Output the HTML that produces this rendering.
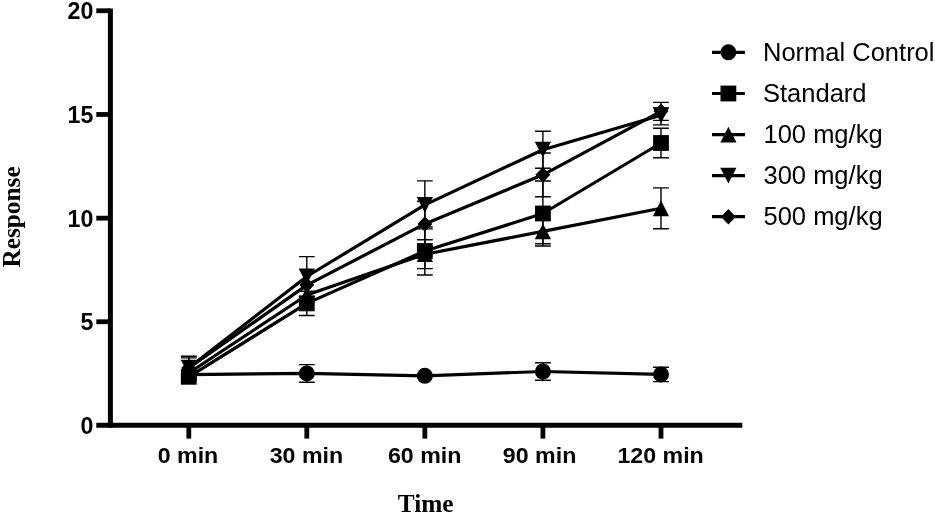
<!DOCTYPE html>
<html><head><meta charset="utf-8"><title>Response vs Time</title>
<style>
html,body{margin:0;padding:0;background:#fff;}
body{width:935px;height:515px;overflow:hidden;}
svg{display:block;}
.ax{stroke:#000;stroke-width:5.0;fill:none;}
.tk{stroke:#000;stroke-width:4.8;fill:none;}
.ln{stroke:#000;stroke-width:3.2;fill:none;stroke-linejoin:round;}
.eb{stroke:#000;stroke-width:1.4;fill:none;}
.tl{font-family:"Liberation Sans",Arial,sans-serif;font-weight:bold;font-size:23.2px;fill:#000;}
.lg{font-family:"Liberation Sans",Arial,sans-serif;font-size:25.5px;fill:#000;}
.at{font-family:"Liberation Serif","Times New Roman",serif;font-weight:bold;font-size:25.3px;fill:#000;}
</style></head>
<body>
<svg width="935" height="515" viewBox="0 0 935 515">
<rect width="935" height="515" fill="#fff"/>
<path class="ax" d="M110.4,8.4V427.7"/>
<path class="ax" d="M96.3,425.2H742.3"/>
<path class="tk" d="M96.3,10.75H110"/>
<text class="tl" text-anchor="end" transform="translate(93.3,19.1) scale(1,1.07)">20</text>
<path class="tk" d="M96.3,114.45H110"/>
<text class="tl" text-anchor="end" transform="translate(93.3,122.9) scale(1,1.07)">15</text>
<path class="tk" d="M96.3,218.15H110"/>
<text class="tl" text-anchor="end" transform="translate(93.3,226.6) scale(1,1.07)">10</text>
<path class="tk" d="M96.3,321.75H110"/>
<text class="tl" text-anchor="end" transform="translate(93.3,330.1) scale(1,1.07)">5</text>
<text class="tl" text-anchor="end" transform="translate(93.3,433.6) scale(1,1.07)">0</text>
<path class="tk" d="M188.8,425V438.6"/>
<text class="tl" text-anchor="middle" transform="translate(188.0,463.4) scale(1,0.985)">0 min</text>
<path class="tk" d="M306.8,425V438.6"/>
<text class="tl" text-anchor="middle" transform="translate(306.4,463.4) scale(1,0.985)">30 min</text>
<path class="tk" d="M424.85,425V438.6"/>
<text class="tl" text-anchor="middle" transform="translate(424.7,463.4) scale(1,0.985)">60 min</text>
<path class="tk" d="M542.9,425V438.6"/>
<text class="tl" text-anchor="middle" transform="translate(539.6,463.4) scale(1,0.985)">90 min</text>
<path class="tk" d="M661.0,425V438.6"/>
<text class="tl" text-anchor="middle" transform="translate(660.6,463.4) scale(1,0.985)">120 min</text>
<polyline class="ln" points="188.8,374.6 306.8,373.4 424.85,375.8 542.9,371.5 661.0,374.4"/>
<path class="eb" d="M306.8,364.60V382.20M298.90,364.60h15.8M298.90,382.20h15.8M542.9,362.75V380.25M535.00,362.75h15.8M535.00,380.25h15.8M661.0,367.20V381.60M653.10,367.20h15.8M653.10,381.60h15.8"/>
<circle cx="188.8" cy="374.6" r="8.00"/>
<circle cx="306.8" cy="373.4" r="8.00"/>
<circle cx="424.85" cy="375.8" r="8.00"/>
<circle cx="542.9" cy="371.5" r="8.00"/>
<circle cx="661.0" cy="374.4" r="8.00"/>
<polyline class="ln" points="188.8,376.8 306.8,303.4 424.85,251.0 542.9,213.5 661.0,143.0"/>
<path class="eb" d="M306.8,291.30V315.50M298.90,291.30h15.8M298.90,315.50h15.8M424.85,227.00V275.00M416.95,227.00h15.8M416.95,275.00h15.8M542.9,181.00V246.00M535.00,181.00h15.8M535.00,246.00h15.8M661.0,128.30V157.70M653.10,128.30h15.8M653.10,157.70h15.8"/>
<rect x="180.90" y="368.90" width="15.80" height="15.80"/>
<rect x="298.90" y="295.50" width="15.80" height="15.80"/>
<rect x="416.95" y="243.10" width="15.80" height="15.80"/>
<rect x="535.00" y="205.60" width="15.80" height="15.80"/>
<rect x="653.10" y="135.10" width="15.80" height="15.80"/>
<polyline class="ln" points="188.8,373 306.8,295.0 424.85,254.2 542.9,231.4 661.0,208.3"/>
<path class="eb" d="M424.85,239.80V268.60M416.95,239.80h15.8M416.95,268.60h15.8M542.9,219.00V243.80M535.00,219.00h15.8M535.00,243.80h15.8M661.0,187.90V228.70M653.10,187.90h15.8M653.10,228.70h15.8"/>
<polygon points="188.80,365.10 196.90,380.90 180.70,380.90"/>
<polygon points="306.80,287.10 314.90,302.90 298.70,302.90"/>
<polygon points="424.85,246.30 432.95,262.10 416.75,262.10"/>
<polygon points="542.90,223.50 551.00,239.30 534.80,239.30"/>
<polygon points="661.00,200.40 669.10,216.20 652.90,216.20"/>
<polyline class="ln" points="188.8,367.7 306.8,276.5 424.85,204.9 542.9,149.7 661.0,115.3"/>
<path class="eb" d="M188.8,356.30V379.10M180.90,356.30h15.8M180.90,379.10h15.8M306.8,256.60V296.40M298.90,256.60h15.8M298.90,296.40h15.8M424.85,180.90V228.90M416.95,180.90h15.8M416.95,228.90h15.8M542.9,131.20V168.20M535.00,131.20h15.8M535.00,168.20h15.8M661.0,107.90V124.90M653.10,107.90h15.8M653.10,124.90h15.8"/>
<polygon points="188.80,375.60 196.90,359.80 180.70,359.80"/>
<polygon points="306.80,284.40 314.90,268.60 298.70,268.60"/>
<polygon points="424.85,212.80 432.95,197.00 416.75,197.00"/>
<polygon points="542.90,157.60 551.00,141.80 534.80,141.80"/>
<polygon points="661.00,123.20 669.10,107.40 652.90,107.40"/>
<polyline class="ln" points="188.8,368.0 306.8,285.1 424.85,223.9 542.9,174.85 661.0,111.35"/>
<path class="eb" d="M188.8,357.90V378.10M180.90,357.90h15.8M180.90,378.10h15.8M424.85,201.30V246.50M416.95,201.30h15.8M416.95,246.50h15.8M542.9,153.00V196.70M535.00,153.00h15.8M535.00,196.70h15.8M661.0,102.35V120.35M653.10,102.35h15.8M653.10,120.35h15.8"/>
<polygon points="188.80,360.25 196.25,368.00 188.80,375.75 181.35,368.00"/>
<polygon points="306.80,277.35 314.25,285.10 306.80,292.85 299.35,285.10"/>
<polygon points="424.85,216.15 432.30,223.90 424.85,231.65 417.40,223.90"/>
<polygon points="542.90,167.10 550.35,174.85 542.90,182.60 535.45,174.85"/>
<polygon points="661.00,103.60 668.45,111.35 661.00,119.10 653.55,111.35"/>
<path class="ln" d="M712,52.3H745"/>
<circle cx="728.4" cy="52.3" r="8.00"/>
<text class="lg" x="763.0" y="60.8">Normal Control</text>
<path class="ln" d="M712,93.5H745"/>
<rect x="720.50" y="85.60" width="15.80" height="15.80"/>
<text class="lg" x="763.0" y="102.0">Standard</text>
<path class="ln" d="M712,134.6H745"/>
<polygon points="728.40,126.70 736.50,142.50 720.30,142.50"/>
<text class="lg" x="763.5" y="143.1">100 mg/kg</text>
<path class="ln" d="M712,175.6H745"/>
<polygon points="728.40,183.50 736.50,167.70 720.30,167.70"/>
<text class="lg" x="763.5" y="184.1">300 mg/kg</text>
<path class="ln" d="M712,216.7H745"/>
<polygon points="728.40,208.95 735.85,216.70 728.40,224.45 720.95,216.70"/>
<text class="lg" x="763.5" y="225.2">500 mg/kg</text>
<text class="at" text-anchor="middle" x="425.7" y="511.8">Time</text>
<text class="at" text-anchor="middle" transform="translate(19.5,217) rotate(-90)">Response</text>
</svg>
</body></html>
